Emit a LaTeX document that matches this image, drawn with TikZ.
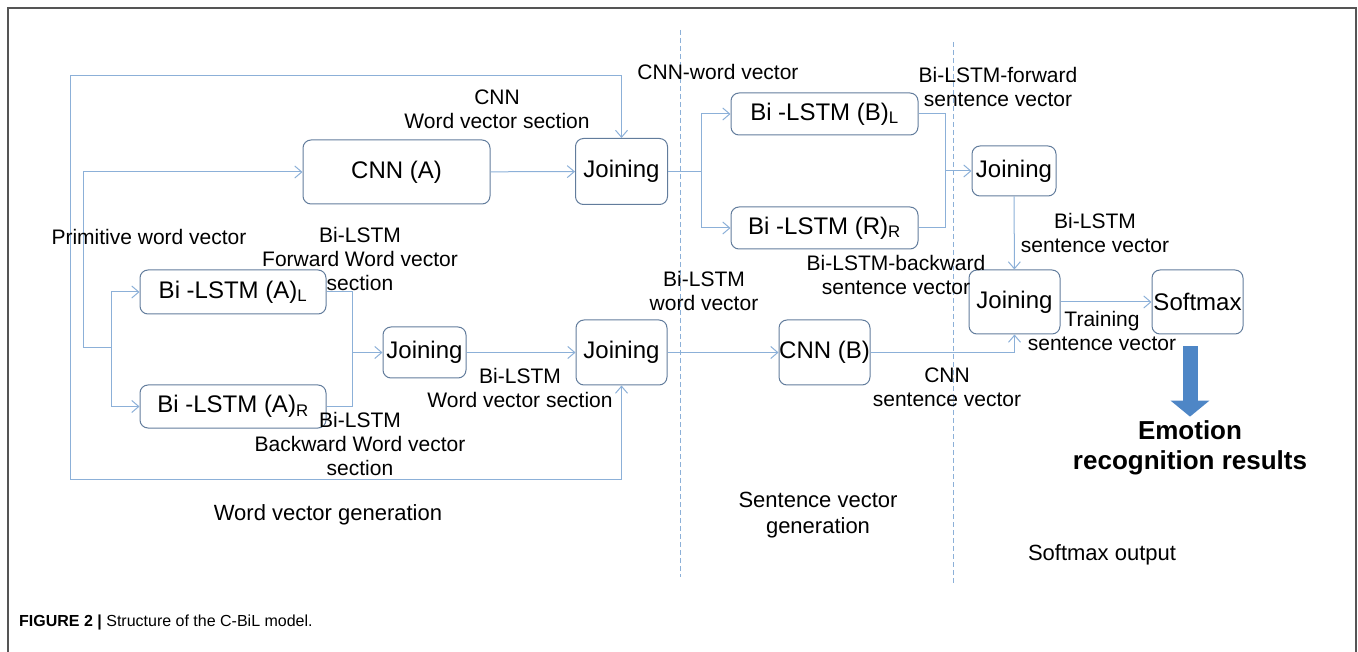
\documentclass[tikz,border=0pt]{standalone}
\usepackage{fontspec}
\setmainfont{Liberation Sans}
\usetikzlibrary{arrows}
\usetikzlibrary{arrows.meta}
\usetikzlibrary{shapes}
\usetikzlibrary{backgrounds}

\definecolor{linkblue}{RGB}{140,176,216}
\definecolor{boxedge}{RGB}{98,124,156}
\definecolor{resultblue}{RGB}{78,134,198}
\definecolor{frame}{RGB}{85,85,85}

\begin{document}
\begin{tikzpicture}[x=1pt,y=-1pt,>={Straight Barb[length=7pt,width=12pt]},
  box/.style={draw=boxedge, line width=1pt, rounded corners=8pt, inner sep=0pt,
    font=\fontsize{24}{26}\selectfont},
  lbl/.style={align=center, inner sep=0pt, font=\fontsize{21}{24}\selectfont},
  part/.style={align=center, inner sep=0pt, font=\fontsize{22}{26}\selectfont},
  link/.style={draw=linkblue, line width=1pt},
  divider/.style={draw=linkblue, line width=0.8pt, dash pattern=on 5pt off 3pt}]
\useasboundingbox (0,0) rectangle (1358,652);
\draw [frame, line width=1.6pt] (8,652) -- (8,8) -- (1356,8) -- (1356,652);

\draw [divider] (680,30) -- (680,577);
\draw [divider] (953,42) -- (953,583);

% word vector generation
\node [box, minimum width=187pt, minimum height=64pt] (cnnA) at (396.5,172) {CNN (A)};
\node [box, minimum width=92pt, minimum height=66pt] (joinA) at (621.5,171.5) {Joining};
\node [box, minimum width=186pt, minimum height=44pt] (lstmAL) at (233,292) {Bi -LSTM (A)\textsubscript{L}};
\node [box, minimum width=186pt, minimum height=43pt] (lstmAR) at (233,406.5) {Bi -LSTM (A)\textsubscript{R}};
\node [box, minimum width=83pt, minimum height=51pt] (joinB) at (424.5,352.5) {Joining};
\node [box, minimum width=91pt, minimum height=65pt] (joinC) at (621.5,352.5) {Joining};

% sentence vector generation
\node [box, minimum width=187pt, minimum height=42pt] (lstmBL) at (824.5,114) {Bi -LSTM (B)\textsubscript{L}};
\node [box, minimum width=187pt, minimum height=42pt] (lstmBR) at (824.5,228) {Bi -LSTM (R)\textsubscript{R}};
\node [box, minimum width=91pt, minimum height=65pt] (cnnB) at (824.5,352.5) {CNN (B)};
\node [box, minimum width=84pt, minimum height=50pt] (joinD) at (1014,171) {Joining};

% softmax output
\node [box, minimum width=91pt, minimum height=64pt] (joinE) at (1014.5,302) {Joining};
\node [box, minimum width=91pt, minimum height=64pt] (softmax) at (1197.5,302) {Softmax};
\node [align=center, inner sep=0pt, font=\bfseries\fontsize{26}{30}\selectfont] (result) at (1190,448)
  {Emotion\\recognition results};

\coordinate (outer) at (70,479);
\coordinate (inner) at (83,348);
\coordinate (fork) at (111,348);
\coordinate (mergeA) at (352,352.5);
\coordinate (forkB) at (701,171.5);
\coordinate (mergeB) at (945,171);

\draw [link,->] (outer) -- (70,76) -| (joinA.north);
\draw [link,->] (outer) -| (joinC.south);
\draw [link,->] (inner) |- (cnnA.west);
\draw [link] (inner) -- (fork);
\draw [link,->] (fork) |- (lstmAL.west);
\draw [link,->] (fork) |- (lstmAR.west);
\draw [link] (lstmAL.east) -| (mergeA);
\draw [link] (lstmAR.east) -| (mergeA);
\draw [link,->] (mergeA) -- (joinB.west);
\draw [link,->] (joinB) -- (joinC);
\draw [link,->] (cnnA) -- (joinA);
\draw [link] (joinA.east) -- (forkB);
\draw [link,->] (forkB) |- (lstmBL.west);
\draw [link,->] (forkB) |- (lstmBR.west);
\draw [link] (lstmBL.east) -| (mergeB);
\draw [link] (lstmBR.east) -| (mergeB);
\draw [link,->] (mergeB) -- (joinD.west);
\draw [link,->] (joinD) -- (joinE);
\draw [link,->] (joinC) -- (cnnB);
\draw [link,->] (cnnB.east) -| (joinE.south);
\draw [link,->] (joinE) -- (softmax);
\draw [resultblue, line width=15pt, -{Triangle[width=38pt,length=16pt]}]
  ([yshift=-12pt]softmax.south -| result.north) -- ([yshift=4pt]result.north);

\node [lbl] (lblPrim) at (149,237) {Primitive word vector};
\node [lbl] (lblCnnA) at (497,109.5) {CNN\\Word vector section};
\node [lbl] (lblFwd) at (360,259) {Bi-LSTM\\Forward Word vector\\section};
\node [lbl] (lblBwd) at (360,444) {Bi-LSTM\\Backward Word vector\\section};
\node [lbl] (lblBiW) at (520,388) {Bi-LSTM\\Word vector section};
\node [lbl] (lblWord) at (704,290.5) {Bi-LSTM\\word vector};
\node [lbl] (lblCnnW) at (718,72) {CNN-word vector};
\node [lbl] (lblFwdS) at (998,87) {Bi-LSTM-forward\\sentence vector};
\node [lbl] (lblBwdS) at (896,275) {Bi-LSTM-backward\\sentence vector};
\node [lbl] (lblBiS) at (1095,233) {Bi-LSTM\\sentence vector};
\node [lbl] (lblTrain) at (1102,331) {Training\\sentence vector};
\node [lbl] (lblCnnS) at (947,387.5) {CNN\\sentence vector};

\node [part] (partWord) at (328,515) {Word vector generation};
\node [part] (partSent) at (818,515.5) {Sentence vector\\generation};
\node [part] (partOut) at (1102,555) {Softmax output};

\node [anchor=west, inner sep=0pt, font=\fontsize{16}{18}\selectfont] (caption) at (19,622)
  {\textbf{FIGURE 2 |} Structure of the C-BiL model.};
\end{tikzpicture}
\end{document}
